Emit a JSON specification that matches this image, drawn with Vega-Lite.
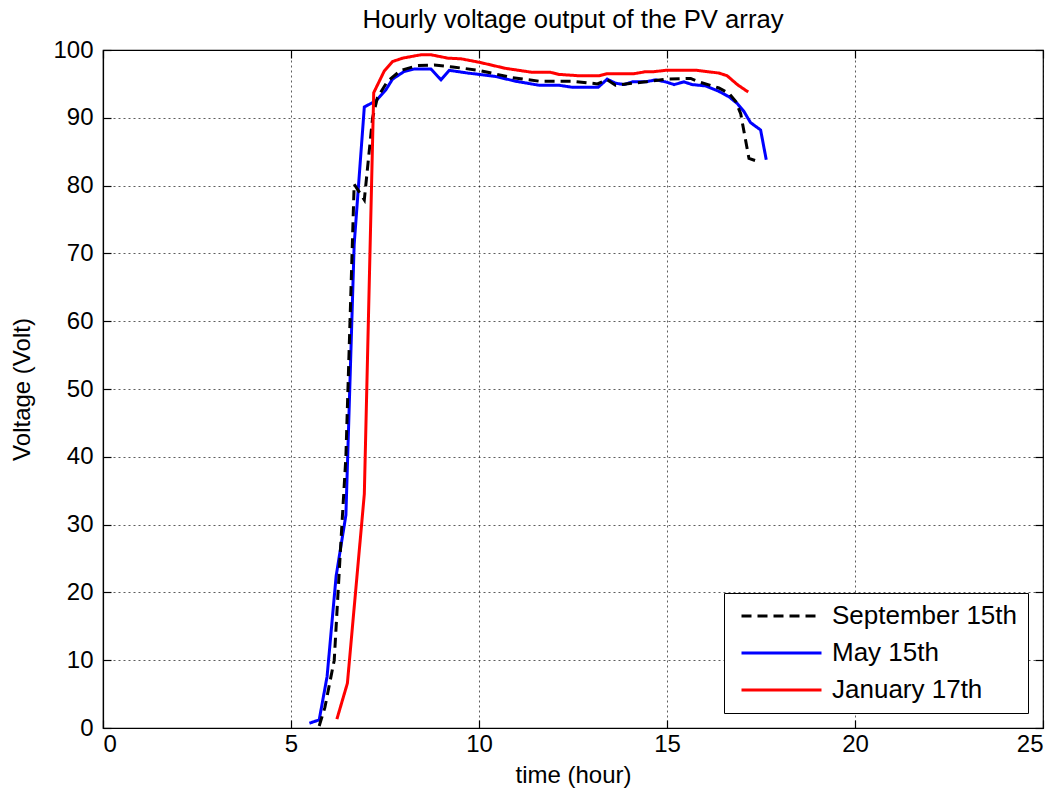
{
  "$schema": "https://vega.github.io/schema/vega-lite/v6.json",
  "autosize": {"type": "none"},
  "padding": {"left": 103, "top": 50, "right": 17, "bottom": 71},
  "width": 940,
  "height": 678,
  "background": "white",
  "title": {"text": "Hourly voltage output of the PV array", "fontSize": 25.7, "fontWeight": "normal", "font": "Liberation Sans", "color": "black", "offset": 4, "frame": "group"},
  "data": {"values": [
    {"series": "May 15th", "t": 5.49, "v": 0.7},
    {"series": "May 15th", "t": 5.75, "v": 1.2},
    {"series": "May 15th", "t": 5.96, "v": 7.6},
    {"series": "May 15th", "t": 6.2, "v": 22.4},
    {"series": "May 15th", "t": 6.46, "v": 31.4},
    {"series": "May 15th", "t": 6.68, "v": 71.3},
    {"series": "May 15th", "t": 6.95, "v": 91.6},
    {"series": "May 15th", "t": 7.26, "v": 92.5},
    {"series": "May 15th", "t": 7.52, "v": 94.1},
    {"series": "May 15th", "t": 7.7, "v": 95.7},
    {"series": "May 15th", "t": 8.0, "v": 96.8},
    {"series": "May 15th", "t": 8.28, "v": 97.2},
    {"series": "May 15th", "t": 8.72, "v": 97.2},
    {"series": "May 15th", "t": 8.99, "v": 95.6},
    {"series": "May 15th", "t": 9.21, "v": 97.0},
    {"series": "May 15th", "t": 9.7, "v": 96.6},
    {"series": "May 15th", "t": 10.0, "v": 96.4},
    {"series": "May 15th", "t": 10.44, "v": 96.1},
    {"series": "May 15th", "t": 10.97, "v": 95.4},
    {"series": "May 15th", "t": 11.6, "v": 94.8},
    {"series": "May 15th", "t": 12.13, "v": 94.8},
    {"series": "May 15th", "t": 12.48, "v": 94.5},
    {"series": "May 15th", "t": 13.17, "v": 94.5},
    {"series": "May 15th", "t": 13.41, "v": 95.7},
    {"series": "May 15th", "t": 13.63, "v": 95.1},
    {"series": "May 15th", "t": 13.86, "v": 94.9},
    {"series": "May 15th", "t": 14.08, "v": 95.3},
    {"series": "May 15th", "t": 14.43, "v": 95.3},
    {"series": "May 15th", "t": 14.7, "v": 95.6},
    {"series": "May 15th", "t": 14.96, "v": 95.3},
    {"series": "May 15th", "t": 15.19, "v": 94.9},
    {"series": "May 15th", "t": 15.45, "v": 95.3},
    {"series": "May 15th", "t": 15.67, "v": 94.9},
    {"series": "May 15th", "t": 16.03, "v": 94.7},
    {"series": "May 15th", "t": 16.38, "v": 93.9},
    {"series": "May 15th", "t": 16.65, "v": 93.1},
    {"series": "May 15th", "t": 16.87, "v": 92.1},
    {"series": "May 15th", "t": 17.05, "v": 90.9},
    {"series": "May 15th", "t": 17.22, "v": 89.3},
    {"series": "May 15th", "t": 17.49, "v": 88.2},
    {"series": "May 15th", "t": 17.64, "v": 83.8},
    {"series": "September 15th", "t": 5.75, "v": 0.3},
    {"series": "September 15th", "t": 5.9, "v": 3.0},
    {"series": "September 15th", "t": 6.15, "v": 10.0},
    {"series": "September 15th", "t": 6.33, "v": 27.7},
    {"series": "September 15th", "t": 6.46, "v": 40.0},
    {"series": "September 15th", "t": 6.68, "v": 80.2},
    {"series": "September 15th", "t": 6.95, "v": 77.9},
    {"series": "September 15th", "t": 7.17, "v": 90.0},
    {"series": "September 15th", "t": 7.3, "v": 93.0},
    {"series": "September 15th", "t": 7.57, "v": 95.4},
    {"series": "September 15th", "t": 7.92, "v": 97.0},
    {"series": "September 15th", "t": 8.37, "v": 97.7},
    {"series": "September 15th", "t": 8.81, "v": 97.8},
    {"series": "September 15th", "t": 9.3, "v": 97.5},
    {"series": "September 15th", "t": 10.0, "v": 97.0},
    {"series": "September 15th", "t": 10.89, "v": 95.9},
    {"series": "September 15th", "t": 11.6, "v": 95.4},
    {"series": "September 15th", "t": 12.48, "v": 95.4},
    {"series": "September 15th", "t": 13.15, "v": 95.0},
    {"series": "September 15th", "t": 13.41, "v": 95.6},
    {"series": "September 15th", "t": 13.63, "v": 94.8},
    {"series": "September 15th", "t": 13.9, "v": 95.0},
    {"series": "September 15th", "t": 14.43, "v": 95.3},
    {"series": "September 15th", "t": 14.96, "v": 95.7},
    {"series": "September 15th", "t": 15.63, "v": 95.8},
    {"series": "September 15th", "t": 15.85, "v": 95.3},
    {"series": "September 15th", "t": 16.38, "v": 94.4},
    {"series": "September 15th", "t": 16.65, "v": 93.6},
    {"series": "September 15th", "t": 16.83, "v": 92.4},
    {"series": "September 15th", "t": 16.96, "v": 90.6},
    {"series": "September 15th", "t": 17.18, "v": 84.0},
    {"series": "September 15th", "t": 17.45, "v": 83.5},
    {"series": "January 17th", "t": 6.22, "v": 1.3},
    {"series": "January 17th", "t": 6.5, "v": 6.6},
    {"series": "January 17th", "t": 6.95, "v": 34.5},
    {"series": "January 17th", "t": 7.2, "v": 93.7},
    {"series": "January 17th", "t": 7.48, "v": 96.9},
    {"series": "January 17th", "t": 7.7, "v": 98.3},
    {"series": "January 17th", "t": 7.97, "v": 98.8},
    {"series": "January 17th", "t": 8.46, "v": 99.3},
    {"series": "January 17th", "t": 8.72, "v": 99.3},
    {"series": "January 17th", "t": 9.17, "v": 98.8},
    {"series": "January 17th", "t": 9.52, "v": 98.7},
    {"series": "January 17th", "t": 10.0, "v": 98.2},
    {"series": "January 17th", "t": 10.7, "v": 97.3},
    {"series": "January 17th", "t": 11.42, "v": 96.7},
    {"series": "January 17th", "t": 11.9, "v": 96.7},
    {"series": "January 17th", "t": 12.13, "v": 96.4},
    {"series": "January 17th", "t": 12.66, "v": 96.2},
    {"series": "January 17th", "t": 13.2, "v": 96.2},
    {"series": "January 17th", "t": 13.41, "v": 96.5},
    {"series": "January 17th", "t": 14.12, "v": 96.5},
    {"series": "January 17th", "t": 14.43, "v": 96.8},
    {"series": "January 17th", "t": 14.65, "v": 96.8},
    {"series": "January 17th", "t": 14.96, "v": 97.0},
    {"series": "January 17th", "t": 15.8, "v": 97.0},
    {"series": "January 17th", "t": 16.38, "v": 96.6},
    {"series": "January 17th", "t": 16.6, "v": 96.2},
    {"series": "January 17th", "t": 16.87, "v": 94.9},
    {"series": "January 17th", "t": 17.16, "v": 93.8}
  ]},
  "layer": [
    {
      "mark": {"type": "line", "opacity": 0},
      "encoding": {
        "x": {"field": "t", "type": "quantitative",
          "scale": {"domain": [0, 25], "nice": false, "zero": false},
          "axis": {"orient": "top", "values": [0, 5, 10, 15, 20, 25], "labels": false, "title": null, "grid": false, "domain": false}},
        "y": {"field": "v", "type": "quantitative",
          "scale": {"domain": [0, 100], "nice": false},
          "axis": {"orient": "right", "values": [0, 10, 20, 30, 40, 50, 60, 70, 80, 90, 100], "labels": false, "title": null, "grid": false, "domain": false}}
      }
    },
    {
      "mark": {"type": "line", "strokeWidth": 3, "strokeJoin": "miter"},
      "encoding": {
        "x": {"field": "t", "type": "quantitative", "title": "time (hour)",
          "scale": {"domain": [0, 25], "nice": false, "zero": false},
          "axis": {"orient": "bottom", "values": [0, 5, 10, 15, 20, 25], "titlePadding": 7, "labelPadding": 12, "grid": true}},
        "y": {"field": "v", "type": "quantitative", "title": "Voltage (Volt)",
          "scale": {"domain": [0, 100], "nice": false},
          "axis": {"orient": "left", "values": [0, 10, 20, 30, 40, 50, 60, 70, 80, 90, 100], "titlePadding": 18, "labelPadding": 18, "grid": true}},
        "color": {"field": "series", "type": "nominal",
          "scale": {"domain": ["September 15th", "May 15th", "January 17th"], "range": ["#000000", "#0000ff", "#ff0000"]},
          "legend": {"title": null, "orient": "none", "legendX": 621, "legendY": 543}},
        "strokeDash": {"field": "series", "type": "nominal",
          "scale": {"domain": ["September 15th", "May 15th", "January 17th"], "range": [[10, 6], [1, 0], [1, 0]]},
          "legend": {"title": null, "orient": "none", "legendX": 621, "legendY": 543}}
      }
    }
  ],
  "resolve": {"axis": {"x": "independent", "y": "independent"}},
  "config": {
    "font": "Liberation Sans",
    "view": {"stroke": "black", "strokeWidth": 1.2},
    "axis": {
      "labelFont": "Liberation Sans", "titleFont": "Liberation Sans",
      "labelFontSize": 24, "titleFontSize": 24, "titleFontWeight": "normal",
      "labelColor": "black", "titleColor": "black",
      "domainColor": "black", "domainWidth": 1.2, "tickColor": "black", "tickSize": -8, "tickWidth": 1.2,
      "gridColor": "black", "gridDash": [2, 3], "gridOpacity": 0.8, "gridWidth": 0.8
    },
    "legend": {
      "labelFont": "Liberation Sans", "labelFontSize": 26, "labelColor": "black", "labelLimit": 0,
      "strokeColor": "black", "fillColor": "white", "padding": 10,
      "symbolType": "stroke", "symbolSize": 6400, "symbolStrokeWidth": 3,
      "clipHeight": 26, "rowPadding": 11, "labelOffset": 9, "symbolOffset": 6
    }
  }
}
